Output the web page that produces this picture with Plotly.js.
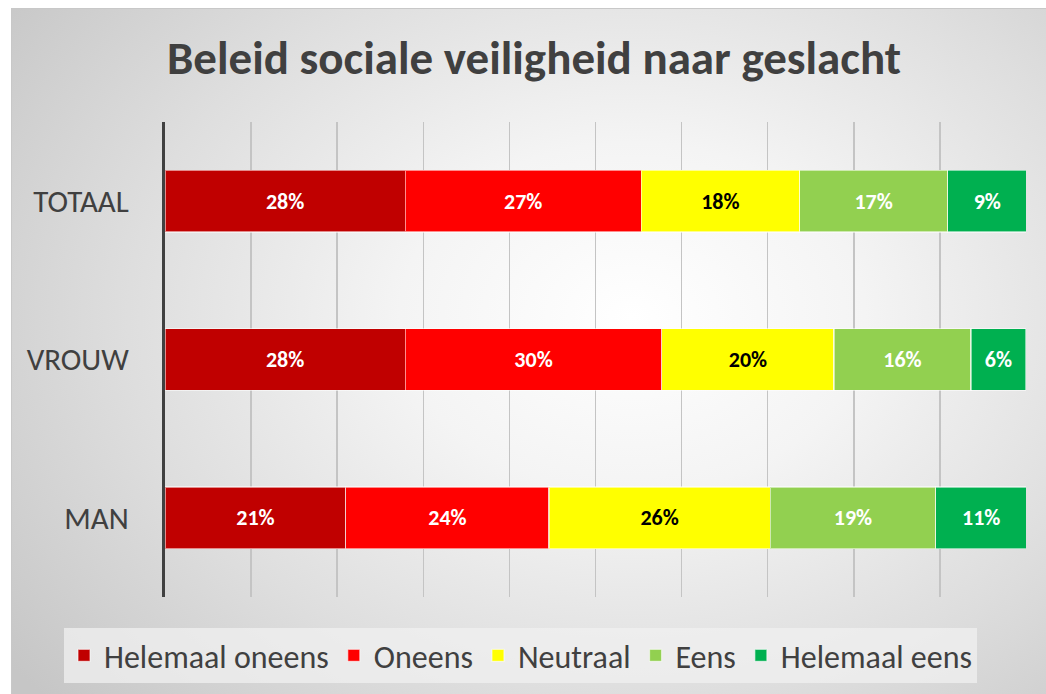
<!DOCTYPE html>
<html>
<head>
<meta charset="utf-8">
<script src="https://cdn.plot.ly/plotly-3.0.1.min.js"></script>
<style>
  html, body { margin: 0; padding: 0; background: #ffffff; width: 1046px; height: 694px; overflow: hidden; }
  #bg { position: absolute; left: 11px; top: 8px; width: 1035px; height: 686px;
        border-left: 1px solid #c8c8c8; border-top: 1px solid #c8c8c8; box-sizing: border-box;
        background: radial-gradient(ellipse 75% 85% at 60% 45%, #ffffff 0%, #f4f4f4 30%, #dedede 65%, #c6c6c6 100%); }
  #chart { position: absolute; left: 0; top: 0; width: 1046px; height: 694px; }
</style>
</head>
<body>
<div id="bg"></div>
<div id="chart"></div>
<script>
const categories = ["MAN", "VROUW", "TOTAAL"];
const seriesNames = ["Helemaal oneens", "Oneens", "Neutraal", "Eens", "Helemaal eens"];
const helemaalOneens = [21.0, 27.9, 27.9];
const oneens         = [23.6, 29.8, 27.4];
const neutraal       = [25.7, 20.0, 18.4];
const eens           = [19.2, 15.9, 17.2];
const helemaalEens   = [10.6, 6.4, 9.2];
const colors = ["#c00000", "#ff0000", "#ffff00", "#92d050", "#00b050"];
const labelColors = ["#ffffff", "#ffffff", "#000000", "#ffffff", "#ffffff"];
const values = [helemaalOneens, oneens, neutraal, eens, helemaalEens];

const FONT = "Carlito, Lato, 'Open Sans', sans-serif";

const traces = values.map((v, i) => ({
  type: "bar",
  orientation: "h",
  name: seriesNames[i],
  y: categories,
  x: v,
  marker: { color: colors[i], line: { color: "rgba(255,255,255,0.55)", width: 1.2 } },
  texttemplate: "<b>%{x:.0f}%</b>",
  textposition: "inside",
  insidetextanchor: "middle",
  textangle: 0,
  constraintext: "none",
  textfont: { family: FONT, size: 22, color: labelColors[i] },
  hoverinfo: "none"
}));

const layout = {
  width: 1046, height: 694,
  paper_bgcolor: "rgba(0,0,0,0)",
  plot_bgcolor: "rgba(0,0,0,0)",
  barmode: "stack",
  bargap: 0.61,
  margin: { l: 165, r: 20, t: 122, b: 96, pad: 0 },
  title: {
    text: "<b>Beleid sociale veiligheid naar geslacht</b>",
    font: { family: FONT, size: 47, color: "#404040" },
    x: 534 / 1046, xref: "container", xanchor: "center",
    y: 1 - 58 / 694, yref: "container", yanchor: "middle"
  },
  xaxis: {
    range: [0, 100], dtick: 10, tick0: 0,
    showticklabels: false, ticks: "",
    showgrid: true, gridcolor: "#c4c4c4", gridwidth: 1.5,
    zeroline: false, showline: false, fixedrange: true
  },
  yaxis: {
    range: [-0.5, 2.5],
    showline: true, linecolor: "#404040", linewidth: 3,
    showgrid: false, zeroline: false, ticks: "",
    ticklabelstandoff: 27,
    tickfont: { family: FONT, size: 31, color: "#404040" },
    fixedrange: true
  },
  showlegend: true,
  legend: {
    orientation: "h",
    traceorder: "normal",
    x: (64 - 165) / 861, xref: "paper", xanchor: "left",
    y: (598 - 628) / 476, yref: "paper", yanchor: "top",
    bgcolor: "rgba(240,240,240,0.75)",
    font: { family: FONT, size: 32, color: "#404040" },
    itemwidth: 30
  },
  font: { family: FONT, color: "#404040" }
};

Plotly.newPlot("chart", traces, layout, { displayModeBar: false, staticPlot: true });
</script>
</body>
</html>
